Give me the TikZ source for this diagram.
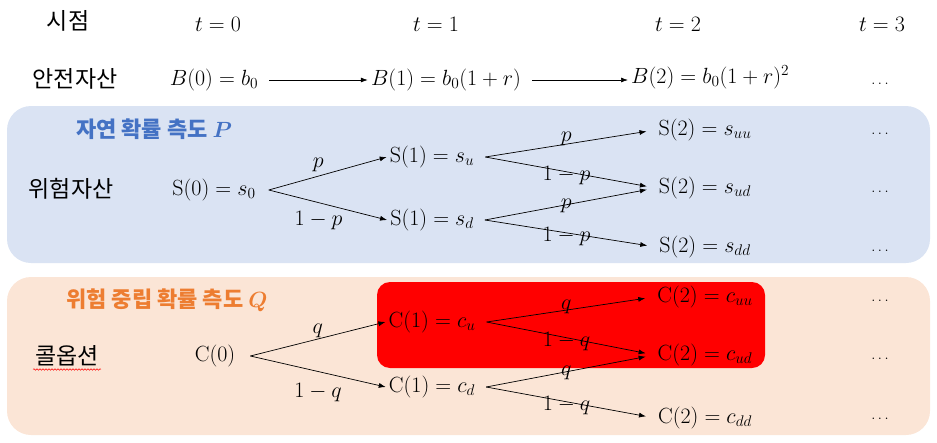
\RequirePackage{fix-cm}
\documentclass[tikz,border=0pt]{standalone}
\usepackage{amsmath}
\usepackage{fontspec}
\newfontfamily\kr{Noto Sans CJK KR}
\usetikzlibrary{arrows.meta,decorations.pathmorphing}
\definecolor{bluebg}{HTML}{DAE3F3}
\definecolor{bluetitle}{HTML}{4472C4}
\definecolor{orangebg}{HTML}{FBE5D6}
\definecolor{orangetitle}{HTML}{ED7D31}
\begin{document}
\begin{tikzpicture}[x=1pt,y=-1pt,
  kr/.style={font=\kr\fontsize{23}{27}\selectfont, inner sep=2pt},
  krtitle/.style={font=\kr\bfseries\fontsize{22}{26}\selectfont, inner sep=2pt},
  mth/.style={font=\fontsize{22}{26}\selectfont, inner sep=3pt},
  lbl/.style={font=\fontsize{22}{26}\selectfont, inner sep=1pt},
  dotsn/.style={font=\fontsize{15}{17}\selectfont, inner sep=1pt},
  arr/.style={-{Latex[length=7pt,width=5pt]}, line width=0.7pt},
  panel/.style={draw=none, rounded corners=24pt},
]
\useasboundingbox (0,0) rectangle (937,442);

% panels
\path[panel, fill=bluebg] (7,106) rectangle (930,263);
\path[panel, fill=orangebg] (7,277) rectangle (930,435);
\path[fill=red, rounded corners=13pt] (377,282) rectangle (765,368);

% header row
\node[kr] (tpt) at (68,21) {시점};
\node[mth] (t0) at (218,24) {$t = 0$};
\node[mth] (t1) at (436,24) {$t = 1$};
\node[mth] (t2) at (678,24) {$t = 2$};
\node[mth] (t3) at (882,24) {$t = 3$};

% bond row
\node[kr] (bond) at (75,79) {안전자산};
\node[mth] (b0) at (214,80) {$B(0) = b_0$};
\node[mth] (b1) at (446,80) {$B(1) = b_0(1+r)$};
\node[mth, anchor=west] (b2) at (628,77) {$B(2) = b_0(1+r)^2$};
\node[dotsn] (bdots) at (880,84) {$\ldots$};
\draw[arr, shorten <=8pt] (b0.east) -- (b0.east -| b1.west);
\draw[arr, shorten <=8pt] (b1.east) -- (b1.east -| b2.west);

% risky asset panel
\node[krtitle, text=bluetitle] (ptitle) at (154,129) {자연 확률 측도 $\boldsymbol{P}$};
\node[kr] (risky) at (71,189) {위험자산};
\node[mth] (s0) at (214,190) {$\mathrm{S}(0) = s_0$};
\node[mth] (s1u) at (432,157) {$\mathrm{S}(1) = s_u$};
\node[mth] (s1d) at (432,220) {$\mathrm{S}(1) = s_d$};
\node[mth] (s2uu) at (705,130) {$\mathrm{S}(2) = s_{uu}$};
\node[mth] (s2ud) at (705,188) {$\mathrm{S}(2) = s_{ud}$};
\node[mth] (s2dd) at (705,247) {$\mathrm{S}(2) = s_{dd}$};
\node[dotsn] (sd1) at (880,134) {$\ldots$};
\node[dotsn] (sd2) at (880,192) {$\ldots$};
\node[dotsn] (sd3) at (880,251) {$\ldots$};
\coordinate (s0o) at ([xshift=10pt]s0.east);
\coordinate (s1uo) at ([xshift=8pt]s1u.east);
\coordinate (s1do) at ([xshift=8pt]s1d.east);
\draw[arr] (s0o) -- node[lbl, pos=0.42, above=3pt] {$p$} (s1u.west);
\draw[arr] (s0o) -- node[lbl, pos=0.42, below=7pt] {$1-p$} (s1d.west);
\draw[arr, shorten >=9pt] (s1uo) -- node[lbl, pos=0.5, xshift=-4pt, yshift=5pt] {$p$} (s2uu.west);
\draw[arr, shorten >=9pt] (s1uo) -- node[lbl, pos=0.5, xshift=-4pt, yshift=-3pt] {$1-p$} (s2ud.west);
\draw[arr, shorten >=9pt] (s1do) -- node[lbl, pos=0.5, xshift=-4pt, yshift=-2pt] {$p$} (s2ud.west);
\draw[arr, shorten >=9pt] (s1do) -- node[lbl, pos=0.5, xshift=-4pt, yshift=-3pt] {$1-p$} (s2dd.west);

% call option panel
\node[krtitle, text=orangetitle] (qtitle) at (167,300) {위험 중립 확률 측도 $\boldsymbol{Q}$};
\node[kr] (call) at (67,356) {콜옵션};
\draw[red, line width=0.5pt, decorate, decoration={snake, amplitude=0.8pt, segment length=3pt}]
  ([yshift=-1pt]call.south west) -- ([yshift=-1pt]call.south east);
\node[mth] (c0) at (215,356) {$\mathrm{C}(0)$};
\node[mth] (c1u) at (432,322) {$\mathrm{C}(1) = c_u$};
\node[mth] (c1d) at (432,387) {$\mathrm{C}(1) = c_d$};
\node[mth] (c2uu) at (705,297) {$\mathrm{C}(2) = c_{uu}$};
\node[mth] (c2ud) at (705,355) {$\mathrm{C}(2) = c_{ud}$};
\node[mth] (c2dd) at (705,418) {$\mathrm{C}(2) = c_{dd}$};
\node[dotsn] (cd1) at (880,301) {$\ldots$};
\node[dotsn] (cd2) at (880,359) {$\ldots$};
\node[dotsn] (cd3) at (880,419) {$\ldots$};
\coordinate (c0o) at ([xshift=12pt]c0.east);
\coordinate (c1uo) at ([xshift=8pt]c1u.east);
\coordinate (c1do) at ([xshift=8pt]c1d.east);
\draw[arr] (c0o) -- node[lbl, pos=0.5, above=0pt] {$q$} (c1u.west);
\draw[arr] (c0o) -- node[lbl, pos=0.5, below=10pt] {$1-q$} (c1d.west);
\draw[arr, shorten >=9pt] (c1uo) -- node[lbl, pos=0.5, xshift=-4pt, yshift=3pt] {$q$} (c2uu.west);
\draw[arr, shorten >=9pt] (c1uo) -- node[lbl, pos=0.5, xshift=-4pt, yshift=-3pt] {$1-q$} (c2ud.west);
\draw[arr, shorten >=9pt] (c1do) -- node[lbl, pos=0.5, xshift=-4pt, yshift=-2pt] {$q$} (c2ud.west);
\draw[arr, shorten >=9pt] (c1do) -- node[lbl, pos=0.5, xshift=-4pt, yshift=-3pt] {$1-q$} (c2dd.west);
\end{tikzpicture}
\end{document}
